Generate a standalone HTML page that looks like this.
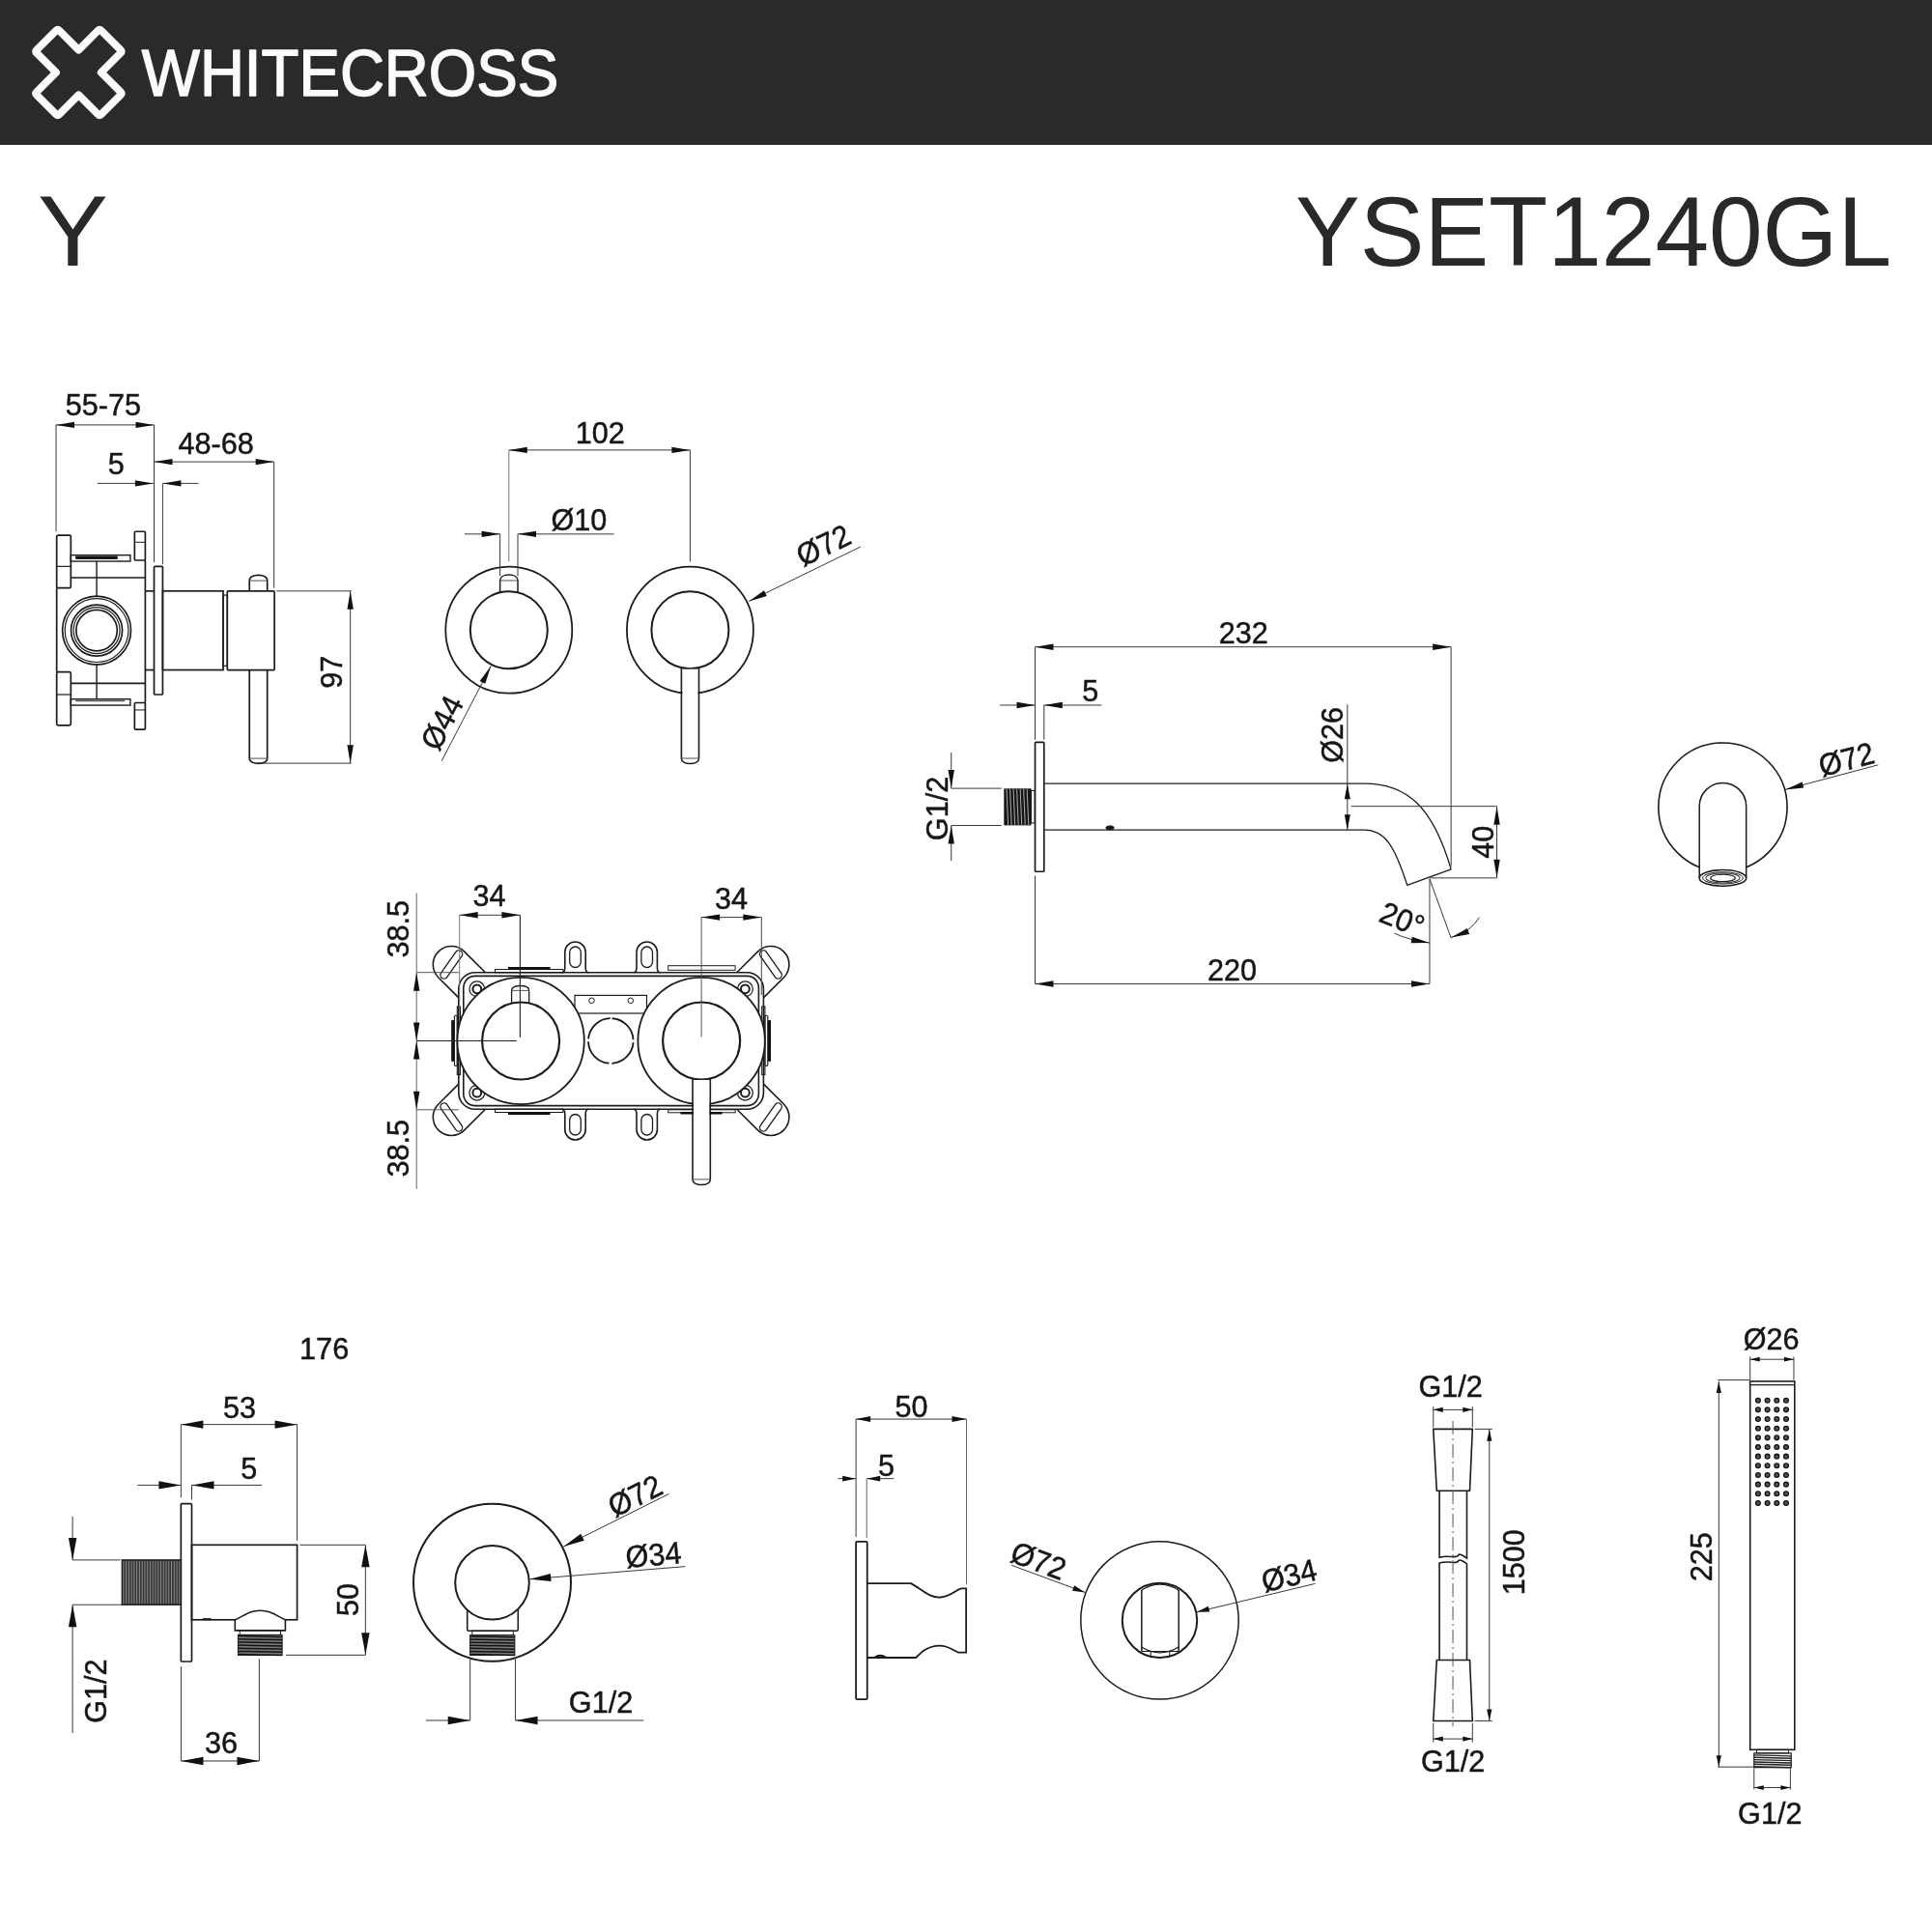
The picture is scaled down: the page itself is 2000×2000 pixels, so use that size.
<!DOCTYPE html>
<html><head><meta charset="utf-8"><title>YSET1240GL</title>
<style>
html,body{margin:0;padding:0;background:#fff;width:2000px;height:2000px;overflow:hidden}
svg{display:block;font-family:"Liberation Sans",sans-serif;will-change:transform}
</style></head><body>
<svg width="2000" height="2000" viewBox="0 0 2000 2000">
<rect width="2000" height="2000" fill="#fff"/>
<rect x="0" y="0" width="2000" height="150" fill="#2b2a29"/>
<g transform="translate(81.4 75) rotate(45)"><path d="M-14 -47.2 L14 -47.2 Q16.5 -47.2 16.5 -44.7 L16.5 -16.5 L44.7 -16.5 Q47.2 -16.5 47.2 -14 L47.2 14 Q47.2 16.5 44.7 16.5 L16.5 16.5 L16.5 44.7 Q16.5 47.2 14 47.2 L-14 47.2 Q-16.5 47.2 -16.5 44.7 L-16.5 16.5 L-44.7 16.5 Q-47.2 16.5 -47.2 14 L-47.2 -14 Q-47.2 -16.5 -44.7 -16.5 L-16.5 -16.5 L-16.5 -44.7 Q-16.5 -47.2 -14 -47.2 Z" fill="none" stroke="#fbfbfb" stroke-width="7.8" stroke-linejoin="round"/></g>
<text x="146.8" y="98.8" font-size="68" fill="#fbfbfb" stroke="#fbfbfb" stroke-width="1.5" stroke-linejoin="round" textLength="431.5" lengthAdjust="spacingAndGlyphs">WHITECROSS</text>
<g transform="translate(41.7 274.5) scale(1.05 1)"><text x="-2.5" y="0" font-size="104" fill="#2b2927">Y</text></g>
<text x="1341" y="274.5" font-size="102" fill="#2b2927" textLength="617" lengthAdjust="spacingAndGlyphs">YSET1240GL</text>
<g font-family="Liberation Sans, sans-serif">
<line x1="58.04" y1="439.88" x2="159.51" y2="439.88" stroke="#3a3938" stroke-width="1"/>
<path d="M58.04 439.88 L77.04 443.08 L77.04 436.68 Z" fill="#111"/>
<path d="M159.51 439.88 L140.51 436.68 L140.51 443.08 Z" fill="#111"/>
<g transform="translate(106.86 430.27) scale(1.02 1.07)"><text x="0" y="0" font-size="30" text-anchor="middle" fill="#161616" stroke="#161616" stroke-width="0.45" >55-75</text></g>
<line x1="58.04" y1="439.88" x2="58.04" y2="550.26" stroke="#3a3938" stroke-width="1"/>
<line x1="159.51" y1="439.88" x2="159.51" y2="582.1" stroke="#3a3938" stroke-width="1"/>
<line x1="159.51" y1="478.09" x2="283.68" y2="478.09" stroke="#3a3938" stroke-width="1"/>
<path d="M159.51 478.09 L178.51 481.29 L178.51 474.89 Z" fill="#111"/>
<path d="M283.68 478.09 L264.68 474.89 L264.68 481.29 Z" fill="#111"/>
<g transform="translate(223.61 469.96) scale(1.02 1.07)"><text x="0" y="0" font-size="30" text-anchor="middle" fill="#161616" stroke="#161616" stroke-width="0.45" >48-68</text></g>
<line x1="283.68" y1="478.09" x2="283.68" y2="608.64" stroke="#3a3938" stroke-width="1"/>
<line x1="100.92" y1="500.38" x2="158.87" y2="500.38" stroke="#3a3938" stroke-width="1"/>
<path d="M158.87 500.38 L139.87 497.18 L139.87 503.58 Z" fill="#111"/>
<line x1="168.42" y1="500.38" x2="205.57" y2="500.38" stroke="#3a3938" stroke-width="1"/>
<path d="M168.42 500.38 L187.42 503.58 L187.42 497.18 Z" fill="#111"/>
<g transform="translate(120.24 491.19) scale(1.02 1.07)"><text x="0" y="0" font-size="30" text-anchor="middle" fill="#161616" stroke="#161616" stroke-width="0.45" >5</text></g>
<line x1="168.42" y1="500.38" x2="168.42" y2="584.23" stroke="#3a3938" stroke-width="1"/>
<line x1="362.65" y1="611.82" x2="362.65" y2="790.13" stroke="#3a3938" stroke-width="1"/>
<path d="M362.65 611.82 L359.45 630.82 L365.85 630.82 Z" fill="#111"/>
<path d="M362.65 790.13 L365.85 771.13 L359.45 771.13 Z" fill="#111"/>
<line x1="286.23" y1="611.82" x2="363.71" y2="611.82" stroke="#3a3938" stroke-width="1"/>
<line x1="267.13" y1="790.13" x2="363.71" y2="790.13" stroke="#3a3938" stroke-width="1"/>
<g transform="translate(342.48 695.67) rotate(-90) scale(1.02 1.07)"><text x="0" y="10.74" font-size="30" text-anchor="middle" fill="#161616" stroke="#161616" stroke-width="0.45">97</text></g>
<rect x="58.68" y="554.08" width="14.65" height="54.55" rx="1.5" stroke="#1d1c1b" stroke-width="1.7" fill="none"/>
<line x1="58.68" y1="586.35" x2="73.33" y2="586.35" stroke="#1d1c1b" stroke-width="1.2"/>
<rect x="58.68" y="695.67" width="14.65" height="55.19" rx="1.5" stroke="#1d1c1b" stroke-width="1.7" fill="none"/>
<line x1="58.68" y1="719.02" x2="73.33" y2="719.02" stroke="#1d1c1b" stroke-width="1.2"/>
<line x1="58.68" y1="608.64" x2="58.68" y2="695.67" stroke="#1d1c1b" stroke-width="1.7"/>
<line x1="73.33" y1="598.02" x2="150.38" y2="598.02" stroke="#1d1c1b" stroke-width="1.7"/>
<line x1="73.33" y1="707.34" x2="150.38" y2="707.34" stroke="#1d1c1b" stroke-width="1.7"/>
<line x1="150.38" y1="579.98" x2="150.38" y2="727.51" stroke="#1d1c1b" stroke-width="1.7"/>
<rect x="139.34" y="550.26" width="11.04" height="29.72" rx="1" stroke="#1d1c1b" stroke-width="1.7" fill="none"/>
<line x1="139.34" y1="561.3" x2="150.38" y2="561.3" stroke="#1d1c1b" stroke-width="1"/>
<rect x="139.34" y="727.51" width="11.04" height="27.59" rx="1" stroke="#1d1c1b" stroke-width="1.7" fill="none"/>
<line x1="139.34" y1="734.94" x2="150.38" y2="734.94" stroke="#1d1c1b" stroke-width="1"/>
<rect x="73.33" y="574.67" width="61.56" height="6.37" rx="0" stroke="#1d1c1b" stroke-width="1.4" fill="none"/>
<rect x="78.21" y="575.52" width="43.52" height="3.4" rx="0" stroke="#1d1c1b" stroke-width="0" fill="#111"/>
<rect x="73.33" y="723.69" width="61.56" height="6.37" rx="0" stroke="#1d1c1b" stroke-width="1.4" fill="none"/>
<rect x="78.21" y="724.54" width="50.94" height="1.7" rx="0" stroke="#1d1c1b" stroke-width="0" fill="#555"/>
<line x1="100.07" y1="581.04" x2="100.07" y2="618.19" stroke="#1d1c1b" stroke-width="1.4"/>
<line x1="100.07" y1="687.18" x2="100.07" y2="723.69" stroke="#1d1c1b" stroke-width="1.4"/>
<circle cx="100.07" cy="652.58" r="35.45" stroke="#1d1c1b" stroke-width="1.7" fill="none" />
<circle cx="100.07" cy="652.58" r="32.9" stroke="#1d1c1b" stroke-width="1.2" fill="none" />
<circle cx="100.07" cy="652.58" r="26.53" stroke="#1d1c1b" stroke-width="1.7" fill="none" />
<circle cx="100.07" cy="652.58" r="23.99" stroke="#1d1c1b" stroke-width="1.2" fill="none" />
<circle cx="100.07" cy="652.58" r="21.23" stroke="#1d1c1b" stroke-width="1.7" fill="none" />
<rect x="159.51" y="586.35" width="8.92" height="132.67" rx="1" stroke="#1d1c1b" stroke-width="1.7" fill="none"/>
<line x1="150.38" y1="611.82" x2="159.51" y2="611.82" stroke="#1d1c1b" stroke-width="1.7"/>
<line x1="150.38" y1="693.54" x2="159.51" y2="693.54" stroke="#1d1c1b" stroke-width="1.7"/>
<rect x="168.42" y="611.82" width="62.62" height="81.72" rx="0" stroke="#1d1c1b" stroke-width="1.7" fill="none"/>
<rect x="231.04" y="616.07" width="4.25" height="73.23" rx="0" stroke="#1d1c1b" stroke-width="1.2" fill="none"/>
<rect x="235.29" y="611.82" width="48.82" height="81.72" rx="1" stroke="#1d1c1b" stroke-width="1.7" fill="none"/>
<path d="M258.21 611.82 L258.21 601.1 C258.21 597.39 262.28 595.4 267.45 595.4 C272.62 595.4 276.68 597.39 276.68 601.1 L276.68 611.82" stroke="#1d1c1b" stroke-width="1.7" fill="none" />
<line x1="258.21" y1="601.1" x2="276.68" y2="601.1" stroke="#555" stroke-width="1"/>
<path d="M258.21 693.54 L258.21 785.1 C258.21 788.54 262.28 790.4 267.45 790.4 C272.62 790.4 276.68 788.54 276.68 785.1 L276.68 693.54" stroke="#1d1c1b" stroke-width="1.7" fill="none" />
<line x1="258.21" y1="785.1" x2="276.68" y2="785.1" stroke="#555" stroke-width="1"/>
<circle cx="526.8" cy="652.2" r="65.5" stroke="#1d1c1b" stroke-width="1.8" fill="none" />
<circle cx="526.8" cy="652.2" r="40" stroke="#1d1c1b" stroke-width="2" fill="none" />
<circle cx="714.4" cy="652.2" r="65.5" stroke="#1d1c1b" stroke-width="1.8" fill="none" />
<circle cx="714.4" cy="652.2" r="40" stroke="#1d1c1b" stroke-width="2" fill="none" />
<path d="M517.64 613.27 L517.64 601 C517.64 597.16 521.68 595.1 526.83 595.1 C531.98 595.1 536.02 597.16 536.02 601 L536.02 613.27" stroke="#1d1c1b" stroke-width="1.5" fill="none" />
<line x1="517.64" y1="601" x2="536.02" y2="601" stroke="#555" stroke-width="1"/>
<rect x="706.4" y="692.66" width="16.1" height="88.84" fill="#fff"/>
<path d="M705.4 691.16 L705.4 785 C705.4 788.58 709.38 790.5 714.45 790.5 C719.52 790.5 723.5 788.58 723.5 785 L723.5 691.16" stroke="#1d1c1b" stroke-width="1.6" fill="none" />
<line x1="705.4" y1="785" x2="723.5" y2="785" stroke="#555" stroke-width="1"/>
<line x1="526.8" y1="465.9" x2="714.4" y2="465.9" stroke="#3a3938" stroke-width="1"/>
<path d="M526.8 465.9 L545.8 469.1 L545.8 462.7 Z" fill="#111"/>
<path d="M714.4 465.9 L695.4 462.7 L695.4 469.1 Z" fill="#111"/>
<g transform="translate(621.24 459.45) scale(1.02 1.07)"><text x="0" y="0" font-size="30" text-anchor="middle" fill="#161616" stroke="#161616" stroke-width="0.45" >102</text></g>
<line x1="526.8" y1="465.9" x2="526.8" y2="581.43" stroke="#777" stroke-width="1"/>
<line x1="714.4" y1="465.9" x2="714.4" y2="581.43" stroke="#3a3938" stroke-width="1"/>
<line x1="480.87" y1="552.86" x2="517.64" y2="552.86" stroke="#3a3938" stroke-width="1"/>
<path d="M517.64 552.86 L498.64 549.66 L498.64 556.06 Z" fill="#111"/>
<line x1="536.02" y1="552.86" x2="635.65" y2="552.86" stroke="#3a3938" stroke-width="1"/>
<path d="M536.02 552.86 L555.02 556.06 L555.02 549.66 Z" fill="#111"/>
<line x1="517.64" y1="552.86" x2="517.64" y2="596.34" stroke="#3a3938" stroke-width="1"/>
<line x1="536.02" y1="552.86" x2="536.02" y2="596.34" stroke="#3a3938" stroke-width="1"/>
<g transform="translate(599.38 548.89) scale(1.02 1.07)"><text x="0" y="0" font-size="30" text-anchor="middle" fill="#161616" stroke="#161616" stroke-width="0.45" >&#216;10</text></g>
<line x1="775.28" y1="622.42" x2="890.81" y2="566.02" stroke="#3a3938" stroke-width="1"/>
<path d="M775.28 622.42 L793.76 616.96 L790.95 611.21 Z" fill="#111"/>
<g transform="translate(852.3 564.04) rotate(-26) scale(1.02 1.07)"><text x="0" y="10.74" font-size="30" text-anchor="middle" fill="#161616" stroke="#161616" stroke-width="0.45">&#216;72</text></g>
<line x1="508.2" y1="689.5" x2="457.27" y2="787.64" stroke="#3a3938" stroke-width="1"/>
<path d="M508.2 689.5 L496.61 704.89 L502.29 707.84 Z" fill="#111"/>
<g transform="translate(457.27 747.89) rotate(-62.5) scale(1.02 1.07)"><text x="0" y="10.74" font-size="30" text-anchor="middle" fill="#161616" stroke="#161616" stroke-width="0.45">&#216;44</text></g>
<g><path d="M502.5 1006.8 L480.74 985.06 A19 19 0 0 0 453.86 1011.94 L474.8 1032.9" fill="none" stroke="#1d1c1b" stroke-width="1.6"/><g transform="translate(467.3 998.5) rotate(-55)"><rect x="-17" y="-3.8" width="34" height="7.6" rx="3.8" fill="none" stroke="#1d1c1b" stroke-width="1.3"/></g><path d="M581.5 1006.8 Q584.8 1006.8 584.8 1002 L584.8 985.7 A10.7 10.7 0 0 1 606.2 985.7 L606.2 1002 Q606.2 1006.8 609.5 1006.8" fill="none" stroke="#1d1c1b" stroke-width="1.6"/><rect x="589.7" y="980" width="11.6" height="21.5" rx="5.8" fill="none" stroke="#1d1c1b" stroke-width="1.3"/><circle cx="493.8" cy="1023.8" r="7.9" fill="none" stroke="#1d1c1b" stroke-width="1.2"/><circle cx="493.8" cy="1023.8" r="4.4" fill="none" stroke="#1d1c1b" stroke-width="2"/></g>
<g transform="translate(1265.2 0) scale(-1 1)"><path d="M502.5 1006.8 L480.74 985.06 A19 19 0 0 0 453.86 1011.94 L474.8 1032.9" fill="none" stroke="#1d1c1b" stroke-width="1.6"/><g transform="translate(467.3 998.5) rotate(-55)"><rect x="-17" y="-3.8" width="34" height="7.6" rx="3.8" fill="none" stroke="#1d1c1b" stroke-width="1.3"/></g><path d="M581.5 1006.8 Q584.8 1006.8 584.8 1002 L584.8 985.7 A10.7 10.7 0 0 1 606.2 985.7 L606.2 1002 Q606.2 1006.8 609.5 1006.8" fill="none" stroke="#1d1c1b" stroke-width="1.6"/><rect x="589.7" y="980" width="11.6" height="21.5" rx="5.8" fill="none" stroke="#1d1c1b" stroke-width="1.3"/><circle cx="493.8" cy="1023.8" r="7.9" fill="none" stroke="#1d1c1b" stroke-width="1.2"/><circle cx="493.8" cy="1023.8" r="4.4" fill="none" stroke="#1d1c1b" stroke-width="2"/></g>
<g transform="translate(0 2155) scale(1 -1)"><path d="M502.5 1006.8 L480.74 985.06 A19 19 0 0 0 453.86 1011.94 L474.8 1032.9" fill="none" stroke="#1d1c1b" stroke-width="1.6"/><g transform="translate(467.3 998.5) rotate(-55)"><rect x="-17" y="-3.8" width="34" height="7.6" rx="3.8" fill="none" stroke="#1d1c1b" stroke-width="1.3"/></g><path d="M581.5 1006.8 Q584.8 1006.8 584.8 1002 L584.8 985.7 A10.7 10.7 0 0 1 606.2 985.7 L606.2 1002 Q606.2 1006.8 609.5 1006.8" fill="none" stroke="#1d1c1b" stroke-width="1.6"/><rect x="589.7" y="980" width="11.6" height="21.5" rx="5.8" fill="none" stroke="#1d1c1b" stroke-width="1.3"/><circle cx="493.8" cy="1023.8" r="7.9" fill="none" stroke="#1d1c1b" stroke-width="1.2"/><circle cx="493.8" cy="1023.8" r="4.4" fill="none" stroke="#1d1c1b" stroke-width="2"/></g>
<g transform="translate(1265.2 2155) scale(-1 -1)"><path d="M502.5 1006.8 L480.74 985.06 A19 19 0 0 0 453.86 1011.94 L474.8 1032.9" fill="none" stroke="#1d1c1b" stroke-width="1.6"/><g transform="translate(467.3 998.5) rotate(-55)"><rect x="-17" y="-3.8" width="34" height="7.6" rx="3.8" fill="none" stroke="#1d1c1b" stroke-width="1.3"/></g><path d="M581.5 1006.8 Q584.8 1006.8 584.8 1002 L584.8 985.7 A10.7 10.7 0 0 1 606.2 985.7 L606.2 1002 Q606.2 1006.8 609.5 1006.8" fill="none" stroke="#1d1c1b" stroke-width="1.6"/><rect x="589.7" y="980" width="11.6" height="21.5" rx="5.8" fill="none" stroke="#1d1c1b" stroke-width="1.3"/><circle cx="493.8" cy="1023.8" r="7.9" fill="none" stroke="#1d1c1b" stroke-width="1.2"/><circle cx="493.8" cy="1023.8" r="4.4" fill="none" stroke="#1d1c1b" stroke-width="2"/></g>
<g><rect x="512.5" y="1003.5" width="70.4" height="3.3" fill="none" stroke="#1d1c1b" stroke-width="1"/><rect x="526" y="1001" width="43.6" height="3" fill="#111"/></g>
<g transform="translate(0 2155) scale(1 -1)"><rect x="512.5" y="1003.5" width="70.4" height="3.3" fill="none" stroke="#1d1c1b" stroke-width="1"/><rect x="526" y="1001" width="43.6" height="3" fill="#111"/></g>
<rect x="691.7" y="999.7" width="69.4" height="4.6" fill="none" stroke="#1d1c1b" stroke-width="1"/>
<rect x="691.7" y="1148.8" width="69.4" height="3" fill="none" stroke="#1d1c1b" stroke-width="1"/>
<rect x="704.5" y="1151" width="43" height="2.5" fill="#111"/>
<rect x="474.8" y="1006.8" width="315.6" height="141.4" rx="17" stroke="#1d1c1b" stroke-width="1.6" fill="none"/>
<rect x="479.8" y="1010.4" width="305.6" height="134.2" rx="12" stroke="#1d1c1b" stroke-width="1.6" fill="none"/>
<rect x="467.2" y="1056.1" width="3.3" height="42.7" fill="#111"/><rect x="470.4" y="1051.2" width="2.9" height="52.2" rx="1.2" fill="none" stroke="#1d1c1b" stroke-width="1.1"/><rect x="473.3" y="1042" width="3.2" height="70.5" fill="none" stroke="#1d1c1b" stroke-width="1.1"/>
<g transform="translate(1265.2 0) scale(-1 1)"><rect x="467.2" y="1056.1" width="3.3" height="42.7" fill="#111"/><rect x="470.4" y="1051.2" width="2.9" height="52.2" rx="1.2" fill="none" stroke="#1d1c1b" stroke-width="1.1"/><rect x="473.3" y="1042" width="3.2" height="70.5" fill="none" stroke="#1d1c1b" stroke-width="1.1"/></g>
<rect x="595" y="1030.4" width="74.5" height="18.6" rx="0" stroke="#1d1c1b" stroke-width="1.2" fill="none"/>
<circle cx="612.5" cy="1035.8" r="2.8" stroke="#1d1c1b" stroke-width="1" fill="none" />
<circle cx="652.8" cy="1035.8" r="2.8" stroke="#1d1c1b" stroke-width="1" fill="none" />
<circle cx="632.3" cy="1077.5" r="23.3" fill="none" stroke="#1d1c1b" stroke-width="1.8" stroke-dasharray="33.6 3" stroke-dashoffset="-1.5" transform="rotate(-90 632.3 1077.5)"/>
<circle cx="539.1" cy="1077.5" r="65.7" stroke="#1d1c1b" stroke-width="1.8" fill="#fff" />
<circle cx="726.1" cy="1077.5" r="65.7" stroke="#1d1c1b" stroke-width="1.8" fill="#fff" />
<circle cx="539.1" cy="1077.5" r="40" stroke="#1d1c1b" stroke-width="2.2" fill="none" />
<circle cx="726.1" cy="1077.5" r="40" stroke="#1d1c1b" stroke-width="2.2" fill="none" />
<path d="M529.6 1038.53 L529.6 1025.4 C529.6 1022.22 533.58 1020.5 538.65 1020.5 C543.72 1020.5 547.7 1022.22 547.7 1025.4 L547.7 1038.53" stroke="#1d1c1b" stroke-width="1.3" fill="none" />
<line x1="529.6" y1="1025.4" x2="547.7" y2="1025.4" stroke="#555" stroke-width="1"/>
<rect x="718" y="1117.97" width="16.3" height="98.53" fill="#fff"/>
<path d="M717 1116.47 L717 1220.9 C717 1224.54 721.03 1226.5 726.15 1226.5 C731.27 1226.5 735.3 1224.54 735.3 1220.9 L735.3 1116.47" stroke="#1d1c1b" stroke-width="1.6" fill="none" />
<line x1="717" y1="1220.9" x2="735.3" y2="1220.9" stroke="#555" stroke-width="1"/>
<line x1="431.2" y1="924.5" x2="431.2" y2="1230.8" stroke="#666" stroke-width="1"/>
<line x1="431.2" y1="1006.7" x2="474.8" y2="1006.7" stroke="#555" stroke-width="1"/>
<line x1="431.2" y1="1077.5" x2="534.9" y2="1077.5" stroke="#222" stroke-width="1.2"/>
<line x1="431.2" y1="1148.8" x2="474.8" y2="1148.8" stroke="#555" stroke-width="1"/>
<path d="M431.2 1006.7 L428 1025.7 L434.4 1025.7 Z" fill="#111"/>
<path d="M431.2 1077.5 L434.4 1058.5 L428 1058.5 Z" fill="#111"/>
<path d="M431.2 1077.5 L428 1096.5 L434.4 1096.5 Z" fill="#111"/>
<path d="M431.2 1148.8 L434.4 1129.8 L428 1129.8 Z" fill="#111"/>
<g transform="translate(411.4 961.7) rotate(-90) scale(1.02 1.07)"><text x="0" y="10.74" font-size="30" text-anchor="middle" fill="#161616" stroke="#161616" stroke-width="0.45">38.5</text></g>
<g transform="translate(411.4 1188.8) rotate(-90) scale(1.02 1.07)"><text x="0" y="10.74" font-size="30" text-anchor="middle" fill="#161616" stroke="#161616" stroke-width="0.45">38.5</text></g>
<line x1="475.7" y1="947.3" x2="538.4" y2="947.3" stroke="#3a3938" stroke-width="1"/>
<path d="M475.7 947.3 L494.7 950.5 L494.7 944.1 Z" fill="#111"/>
<path d="M538.4 947.3 L519.4 944.1 L519.4 950.5 Z" fill="#111"/>
<line x1="475.7" y1="947.3" x2="475.7" y2="1042.8" stroke="#777" stroke-width="1"/>
<line x1="538.4" y1="947.3" x2="538.4" y2="1073.9" stroke="#222" stroke-width="1.1"/>
<g transform="translate(506.5 938.3) scale(1.02 1.07)"><text x="0" y="0" font-size="30" text-anchor="middle" fill="#161616" stroke="#161616" stroke-width="0.45" >34</text></g>
<line x1="726.1" y1="949.6" x2="788.3" y2="949.6" stroke="#3a3938" stroke-width="1"/>
<path d="M726.1 949.6 L745.1 952.8 L745.1 946.4 Z" fill="#111"/>
<path d="M788.3 949.6 L769.3 946.4 L769.3 952.8 Z" fill="#111"/>
<line x1="726.1" y1="949.6" x2="726.1" y2="1073.5" stroke="#555" stroke-width="1"/>
<line x1="788.3" y1="949.6" x2="788.3" y2="1030" stroke="#444" stroke-width="1"/>
<g transform="translate(756.9 940.6) scale(1.02 1.07)"><text x="0" y="0" font-size="30" text-anchor="middle" fill="#161616" stroke="#161616" stroke-width="0.45" >34</text></g>
<line x1="1071.51" y1="669.69" x2="1502.15" y2="669.69" stroke="#3a3938" stroke-width="1"/>
<path d="M1071.51 669.69 L1090.51 672.89 L1090.51 666.49 Z" fill="#111"/>
<path d="M1502.15 669.69 L1483.15 666.49 L1483.15 672.89 Z" fill="#111"/>
<g transform="translate(1287.16 665.72) scale(1.02 1.07)"><text x="0" y="0" font-size="30" text-anchor="middle" fill="#161616" stroke="#161616" stroke-width="0.45" >232</text></g>
<line x1="1071.51" y1="669.69" x2="1071.51" y2="765.76" stroke="#3a3938" stroke-width="1"/>
<line x1="1502.15" y1="669.69" x2="1502.15" y2="896.6" stroke="#3a3938" stroke-width="1"/>
<line x1="1071.51" y1="1018.51" x2="1479.96" y2="1018.51" stroke="#3a3938" stroke-width="1"/>
<path d="M1071.51 1018.51 L1090.51 1021.71 L1090.51 1015.31 Z" fill="#111"/>
<path d="M1479.96 1018.51 L1460.96 1015.31 L1460.96 1021.71 Z" fill="#111"/>
<g transform="translate(1275.57 1015.2) scale(1.02 1.07)"><text x="0" y="0" font-size="30" text-anchor="middle" fill="#161616" stroke="#161616" stroke-width="0.45" >220</text></g>
<line x1="1071.51" y1="906.54" x2="1071.51" y2="1018.51" stroke="#3a3938" stroke-width="1"/>
<line x1="1479.96" y1="909.86" x2="1479.96" y2="1018.51" stroke="#3a3938" stroke-width="1"/>
<line x1="1035.07" y1="729.98" x2="1071.51" y2="729.98" stroke="#3a3938" stroke-width="1"/>
<path d="M1071.51 729.98 L1052.51 726.78 L1052.51 733.18 Z" fill="#111"/>
<line x1="1080.79" y1="729.98" x2="1140.41" y2="729.98" stroke="#3a3938" stroke-width="1"/>
<path d="M1080.79 729.98 L1099.79 733.18 L1099.79 726.78 Z" fill="#111"/>
<line x1="1080.79" y1="729.98" x2="1080.79" y2="765.76" stroke="#3a3938" stroke-width="1"/>
<g transform="translate(1128.82 726.34) scale(1.02 1.07)"><text x="0" y="0" font-size="30" text-anchor="middle" fill="#161616" stroke="#161616" stroke-width="0.45" >5</text></g>
<rect x="1071.51" y="768.41" width="9.28" height="133.83" rx="1" stroke="#1d1c1b" stroke-width="1.7" fill="none"/>
<rect x="1039.3" y="816.3" width="28.2" height="38.1" fill="#161616"/>
<line x1="1042.03" y1="816.8" x2="1043.62" y2="853.9" stroke="#bbb" stroke-width="0.9"/>
<line x1="1045.55" y1="816.8" x2="1047.15" y2="853.9" stroke="#bbb" stroke-width="0.9"/>
<line x1="1049.08" y1="816.8" x2="1050.67" y2="853.9" stroke="#bbb" stroke-width="0.9"/>
<line x1="1052.6" y1="816.8" x2="1054.2" y2="853.9" stroke="#bbb" stroke-width="0.9"/>
<line x1="1056.12" y1="816.8" x2="1057.72" y2="853.9" stroke="#bbb" stroke-width="0.9"/>
<line x1="1059.65" y1="816.8" x2="1061.25" y2="853.9" stroke="#bbb" stroke-width="0.9"/>
<line x1="1063.17" y1="816.8" x2="1064.77" y2="853.9" stroke="#bbb" stroke-width="0.9"/>
<rect x="1067.5" y="818.4" width="3.7" height="33.5" rx="0" stroke="#1d1c1b" stroke-width="1" fill="none"/>
<line x1="1080.79" y1="811.14" x2="1412.05" y2="811.14" stroke="#1d1c1b" stroke-width="1.4"/>
<line x1="1080.79" y1="859.17" x2="1412.05" y2="859.17" stroke="#1d1c1b" stroke-width="1.4"/>
<path d="M1412.05 811.14 C1456.77 811.14 1483.27 835.32 1502.15 899.92" stroke="#1d1c1b" stroke-width="1.3" fill="none" />
<path d="M1412.05 859.17 C1433.58 859.17 1443.52 875.07 1456.77 916.48" stroke="#1d1c1b" stroke-width="1.3" fill="none" />
<line x1="1456.77" y1="916.48" x2="1502.15" y2="899.92" stroke="#1d1c1b" stroke-width="1.3"/>
<ellipse cx="1149" cy="856.9" rx="4.2" ry="2" stroke="#1d1c1b" stroke-width="1" fill="#111"/>
<line x1="984.72" y1="779.01" x2="984.72" y2="816.11" stroke="#3a3938" stroke-width="1"/>
<path d="M984.72 816.11 L987.92 797.11 L981.52 797.11 Z" fill="#111"/>
<line x1="984.72" y1="854.53" x2="984.72" y2="890.97" stroke="#3a3938" stroke-width="1"/>
<path d="M984.72 854.53 L981.52 873.53 L987.92 873.53 Z" fill="#111"/>
<line x1="984.72" y1="816.11" x2="1036.73" y2="816.11" stroke="#3a3938" stroke-width="1"/>
<line x1="984.72" y1="854.53" x2="1036.73" y2="854.53" stroke="#3a3938" stroke-width="1"/>
<g transform="translate(969.81 836.98) rotate(-90) scale(1.02 1.07)"><text x="0" y="10.74" font-size="30" text-anchor="middle" fill="#161616" stroke="#161616" stroke-width="0.45">G1/2</text></g>
<line x1="1394.82" y1="729.32" x2="1394.82" y2="859.17" stroke="#3a3938" stroke-width="1"/>
<path d="M1394.82 811.14 L1391.82 827.14 L1397.82 827.14 Z" fill="#111"/>
<path d="M1394.82 859.17 L1397.82 843.17 L1391.82 843.17 Z" fill="#111"/>
<g transform="translate(1378.92 760.79) rotate(-90) scale(1.02 1.07)"><text x="0" y="10.74" font-size="30" text-anchor="middle" fill="#161616" stroke="#161616" stroke-width="0.45">&#216;26</text></g>
<line x1="1549.52" y1="834.66" x2="1549.52" y2="908.86" stroke="#3a3938" stroke-width="1"/>
<path d="M1549.52 834.66 L1546.32 853.66 L1552.72 853.66 Z" fill="#111"/>
<path d="M1549.52 908.86 L1552.72 889.86 L1546.32 889.86 Z" fill="#111"/>
<line x1="1398.8" y1="834.66" x2="1549.52" y2="834.66" stroke="#3a3938" stroke-width="1"/>
<line x1="1479.96" y1="908.86" x2="1549.52" y2="908.86" stroke="#3a3938" stroke-width="1"/>
<g transform="translate(1534.62 871.76) rotate(-90) scale(1.02 1.07)"><text x="0" y="10.74" font-size="30" text-anchor="middle" fill="#161616" stroke="#161616" stroke-width="0.45">40</text></g>
<line x1="1479.96" y1="909.86" x2="1502.15" y2="971.14" stroke="#3a3938" stroke-width="1"/>
<path d="M1443.52 966.17 Q1460.08 973.79 1479.96 976.11" stroke="#3a3938" stroke-width="1" fill="none" />
<path d="M1479.96 976.11 L1461.74 969.83 L1460.69 976.14 Z" fill="#111"/>
<path d="M1531.3 949.61 Q1523.02 964.51 1502.15 970.48" stroke="#3a3938" stroke-width="1" fill="none" />
<path d="M1502.15 970.48 L1521.1 966.97 L1518.9 960.95 Z" fill="#111"/>
<g transform="translate(1451.8 951.26) rotate(22) scale(1.02 1.07)"><text x="0" y="10.74" font-size="30" text-anchor="middle" fill="#161616" stroke="#161616" stroke-width="0.45">20&#176;</text></g>
<circle cx="1783.45" cy="835.56" r="66.62" stroke="#1d1c1b" stroke-width="1.6" fill="none" />
<rect x="1759.22" y="834.21" width="48.45" height="74.7" fill="#fff"/>
<path d="M1759.22 908.91 L1759.22 834.21 A24.23 24.23 0 0 1 1807.67 834.21 L1807.67 908.91" stroke="#1d1c1b" stroke-width="1.5" fill="none" />
<ellipse cx="1783.45" cy="908.91" rx="24.23" ry="8.34" stroke="#1d1c1b" stroke-width="1.6" fill="#fff"/>
<ellipse cx="1783.45" cy="908.91" rx="20.86" ry="6.19" stroke="#1d1c1b" stroke-width="1" fill="none"/>
<ellipse cx="1783.45" cy="908.91" rx="17.5" ry="5.11" stroke="#444" stroke-width="1.2" fill="none"/>
<ellipse cx="1783.45" cy="908.91" rx="12.79" ry="3.77" stroke="#1d1c1b" stroke-width="1.2" fill="none"/>
<line x1="1848.05" y1="817.39" x2="1944.28" y2="791.82" stroke="#3a3938" stroke-width="1"/>
<path d="M1848.05 817.39 L1867.23 815.6 L1865.59 809.42 Z" fill="#111"/>
<g transform="translate(1911.31 785.76) rotate(-15) scale(1.02 1.07)"><text x="0" y="10.74" font-size="30" text-anchor="middle" fill="#161616" stroke="#161616" stroke-width="0.45">&#216;72</text></g>
<g transform="translate(335.62 1407.07) scale(1.02 1.07)"><text x="0" y="0" font-size="30" text-anchor="middle" fill="#161616" stroke="#161616" stroke-width="0.45" >176</text></g>
<line x1="187.35" y1="1474.64" x2="307.57" y2="1474.64" stroke="#3a3938" stroke-width="1"/>
<path d="M187.35 1474.64 L210.35 1478.84 L210.35 1470.44 Z" fill="#111"/>
<path d="M307.57 1474.64 L284.57 1470.44 L284.57 1478.84 Z" fill="#111"/>
<g transform="translate(248.12 1467.85) scale(1.02 1.07)"><text x="0" y="0" font-size="30" text-anchor="middle" fill="#161616" stroke="#161616" stroke-width="0.45" >53</text></g>
<line x1="187.35" y1="1474.64" x2="187.35" y2="1550.33" stroke="#3a3938" stroke-width="1"/>
<line x1="307.57" y1="1474.64" x2="307.57" y2="1594.86" stroke="#3a3938" stroke-width="1"/>
<line x1="142.37" y1="1537.42" x2="187.35" y2="1537.42" stroke="#3a3938" stroke-width="1"/>
<path d="M187.35 1537.42 L164.35 1533.22 L164.35 1541.62 Z" fill="#111"/>
<line x1="198.48" y1="1537.42" x2="271.06" y2="1537.42" stroke="#3a3938" stroke-width="1"/>
<path d="M198.48 1537.42 L221.48 1541.62 L221.48 1533.22 Z" fill="#111"/>
<line x1="198.48" y1="1537.42" x2="198.48" y2="1552.56" stroke="#3a3938" stroke-width="1"/>
<g transform="translate(257.7 1530.85) scale(1.02 1.07)"><text x="0" y="0" font-size="30" text-anchor="middle" fill="#161616" stroke="#161616" stroke-width="0.45" >5</text></g>
<rect x="187.35" y="1556.57" width="11.13" height="163.41" rx="1" stroke="#1d1c1b" stroke-width="1.7" fill="none"/>
<rect x="126.34" y="1614.9" width="61" height="46.31" fill="#3a3a3a" stroke="#1d1c1b" stroke-width="1.4"/>
<line x1="127.84" y1="1615.9" x2="127.84" y2="1660.2" stroke="#999" stroke-width="0.8"/>
<line x1="130.61" y1="1615.9" x2="130.61" y2="1660.2" stroke="#999" stroke-width="0.8"/>
<line x1="133.37" y1="1615.9" x2="133.37" y2="1660.2" stroke="#999" stroke-width="0.8"/>
<line x1="136.13" y1="1615.9" x2="136.13" y2="1660.2" stroke="#999" stroke-width="0.8"/>
<line x1="138.89" y1="1615.9" x2="138.89" y2="1660.2" stroke="#999" stroke-width="0.8"/>
<line x1="141.65" y1="1615.9" x2="141.65" y2="1660.2" stroke="#999" stroke-width="0.8"/>
<line x1="144.42" y1="1615.9" x2="144.42" y2="1660.2" stroke="#999" stroke-width="0.8"/>
<line x1="147.18" y1="1615.9" x2="147.18" y2="1660.2" stroke="#999" stroke-width="0.8"/>
<line x1="149.94" y1="1615.9" x2="149.94" y2="1660.2" stroke="#999" stroke-width="0.8"/>
<line x1="152.7" y1="1615.9" x2="152.7" y2="1660.2" stroke="#999" stroke-width="0.8"/>
<line x1="155.46" y1="1615.9" x2="155.46" y2="1660.2" stroke="#999" stroke-width="0.8"/>
<line x1="158.23" y1="1615.9" x2="158.23" y2="1660.2" stroke="#999" stroke-width="0.8"/>
<line x1="160.99" y1="1615.9" x2="160.99" y2="1660.2" stroke="#999" stroke-width="0.8"/>
<line x1="163.75" y1="1615.9" x2="163.75" y2="1660.2" stroke="#999" stroke-width="0.8"/>
<line x1="166.51" y1="1615.9" x2="166.51" y2="1660.2" stroke="#999" stroke-width="0.8"/>
<line x1="169.27" y1="1615.9" x2="169.27" y2="1660.2" stroke="#999" stroke-width="0.8"/>
<line x1="172.04" y1="1615.9" x2="172.04" y2="1660.2" stroke="#999" stroke-width="0.8"/>
<line x1="174.8" y1="1615.9" x2="174.8" y2="1660.2" stroke="#999" stroke-width="0.8"/>
<line x1="177.56" y1="1615.9" x2="177.56" y2="1660.2" stroke="#999" stroke-width="0.8"/>
<line x1="180.32" y1="1615.9" x2="180.32" y2="1660.2" stroke="#999" stroke-width="0.8"/>
<line x1="183.08" y1="1615.9" x2="183.08" y2="1660.2" stroke="#999" stroke-width="0.8"/>
<line x1="185.85" y1="1615.9" x2="185.85" y2="1660.2" stroke="#999" stroke-width="0.8"/>
<rect x="198.48" y="1599.31" width="109.09" height="77.48" rx="0" stroke="#1d1c1b" stroke-width="1.7" fill="none"/>
<path d="M243.3 1687.9 L243.3 1676.9 C255.3 1671 259.35 1667.2 269.35 1667.2 C279.35 1667.2 283.4 1671 295.4 1676.9 L295.4 1687.9 Z" stroke="#1d1c1b" stroke-width="1.6" fill="#fff" />
<rect x="248.2" y="1687.9" width="42.3" height="4.5" rx="0" stroke="#1d1c1b" stroke-width="1" fill="none"/>
<rect x="246.4" y="1692.4" width="45.7" height="21" rx="0" stroke="#1d1c1b" stroke-width="1" fill="#777"/>
<line x1="246.4" y1="1693.6" x2="292.1" y2="1694.4" stroke="#111" stroke-width="1.5"/>
<line x1="246.4" y1="1696.77" x2="292.1" y2="1697.57" stroke="#111" stroke-width="1.5"/>
<line x1="246.4" y1="1699.93" x2="292.1" y2="1700.73" stroke="#111" stroke-width="1.5"/>
<line x1="246.4" y1="1703.1" x2="292.1" y2="1703.9" stroke="#111" stroke-width="1.5"/>
<line x1="246.4" y1="1706.27" x2="292.1" y2="1707.07" stroke="#111" stroke-width="1.5"/>
<line x1="246.4" y1="1709.43" x2="292.1" y2="1710.23" stroke="#111" stroke-width="1.5"/>
<line x1="246.4" y1="1712.6" x2="292.1" y2="1713.4" stroke="#111" stroke-width="1.5"/>
<line x1="209.61" y1="1676.12" x2="218.51" y2="1676.12" stroke="#1d1c1b" stroke-width="2"/>
<line x1="378.36" y1="1599.31" x2="378.36" y2="1713.3" stroke="#3a3938" stroke-width="1"/>
<path d="M378.36 1599.31 L374.16 1622.31 L382.56 1622.31 Z" fill="#111"/>
<path d="M378.36 1713.3 L382.56 1690.3 L374.16 1690.3 Z" fill="#111"/>
<line x1="310.46" y1="1599.31" x2="378.36" y2="1599.31" stroke="#3a3938" stroke-width="1"/>
<line x1="295.99" y1="1713.3" x2="378.36" y2="1713.3" stroke="#3a3938" stroke-width="1"/>
<g transform="translate(359.44 1656.08) rotate(-90) scale(1.02 1.07)"><text x="0" y="10.74" font-size="30" text-anchor="middle" fill="#161616" stroke="#161616" stroke-width="0.45">50</text></g>
<line x1="75.14" y1="1569.92" x2="75.14" y2="1614.9" stroke="#3a3938" stroke-width="1"/>
<path d="M75.14 1614.9 L79.34 1591.9 L70.94 1591.9 Z" fill="#111"/>
<line x1="75.14" y1="1661.2" x2="75.14" y2="1794.12" stroke="#3a3938" stroke-width="1"/>
<path d="M75.14 1661.2 L70.94 1684.2 L79.34 1684.2 Z" fill="#111"/>
<line x1="75.14" y1="1614.9" x2="124.56" y2="1614.9" stroke="#3a3938" stroke-width="1"/>
<line x1="75.14" y1="1661.2" x2="126.34" y2="1661.2" stroke="#3a3938" stroke-width="1"/>
<g transform="translate(98.96 1750.7) rotate(-90) scale(1.02 1.07)"><text x="0" y="10.74" font-size="30" text-anchor="middle" fill="#161616" stroke="#161616" stroke-width="0.45">G1/2</text></g>
<line x1="187.43" y1="1822.99" x2="268.4" y2="1822.99" stroke="#3a3938" stroke-width="1"/>
<path d="M187.43 1822.99 L210.43 1827.19 L210.43 1818.79 Z" fill="#111"/>
<path d="M268.4 1822.99 L245.4 1818.79 L245.4 1827.19 Z" fill="#111"/>
<line x1="187.43" y1="1725.1" x2="187.43" y2="1822.99" stroke="#3a3938" stroke-width="1"/>
<line x1="268.4" y1="1717.31" x2="268.4" y2="1822.99" stroke="#3a3938" stroke-width="1"/>
<g transform="translate(229.12 1815.45) scale(1.02 1.07)"><text x="0" y="0" font-size="30" text-anchor="middle" fill="#161616" stroke="#161616" stroke-width="0.45" >36</text></g>
<circle cx="509.5" cy="1638.3" r="81.5" stroke="#1d1c1b" stroke-width="2" fill="none" />
<rect x="483.7" y="1660.5" width="52.6" height="27.7" rx="1.5" stroke="#1d1c1b" stroke-width="1.6" fill="none"/>
<circle cx="509.5" cy="1638.3" r="38.3" stroke="#1d1c1b" stroke-width="2" fill="#fff" />
<rect x="488.8" y="1688.2" width="42.5" height="4.5" rx="0" stroke="#1d1c1b" stroke-width="1" fill="none"/>
<rect x="486.6" y="1692.7" width="46.3" height="20.7" rx="0" stroke="#1d1c1b" stroke-width="1" fill="#777"/>
<line x1="486.6" y1="1693.9" x2="532.9" y2="1694.7" stroke="#111" stroke-width="1.5"/>
<line x1="486.6" y1="1697.02" x2="532.9" y2="1697.82" stroke="#111" stroke-width="1.5"/>
<line x1="486.6" y1="1700.13" x2="532.9" y2="1700.93" stroke="#111" stroke-width="1.5"/>
<line x1="486.6" y1="1703.25" x2="532.9" y2="1704.05" stroke="#111" stroke-width="1.5"/>
<line x1="486.6" y1="1706.37" x2="532.9" y2="1707.17" stroke="#111" stroke-width="1.5"/>
<line x1="486.6" y1="1709.48" x2="532.9" y2="1710.28" stroke="#111" stroke-width="1.5"/>
<line x1="486.6" y1="1712.6" x2="532.9" y2="1713.4" stroke="#111" stroke-width="1.5"/>
<line x1="486.7" y1="1715.82" x2="486.7" y2="1781" stroke="#3a3938" stroke-width="1"/>
<line x1="533.56" y1="1715.82" x2="533.56" y2="1781" stroke="#3a3938" stroke-width="1"/>
<line x1="583.3" y1="1601.09" x2="692.41" y2="1546.53" stroke="#3a3938" stroke-width="1"/>
<path d="M583.3 1601.09 L604.77 1594.83 L601.19 1587.67 Z" fill="#111"/>
<g transform="translate(657.11 1548.14) rotate(-26.6) scale(1.02 1.07)"><text x="0" y="10.74" font-size="30" text-anchor="middle" fill="#161616" stroke="#161616" stroke-width="0.45">&#216;72</text></g>
<line x1="548.32" y1="1634.79" x2="709.26" y2="1621.63" stroke="#3a3938" stroke-width="1"/>
<path d="M548.32 1634.79 L570.57 1636.98 L569.92 1629.01 Z" fill="#111"/>
<g transform="translate(676.37 1609.11) rotate(-4.7) scale(1.02 1.07)"><text x="0" y="10.74" font-size="30" text-anchor="middle" fill="#161616" stroke="#161616" stroke-width="0.45">&#216;34</text></g>
<line x1="440.94" y1="1780.97" x2="486.7" y2="1780.97" stroke="#3a3938" stroke-width="1"/>
<path d="M486.7 1780.97 L463.7 1776.77 L463.7 1785.17 Z" fill="#111"/>
<line x1="533.56" y1="1780.97" x2="666.42" y2="1780.97" stroke="#3a3938" stroke-width="1"/>
<path d="M533.56 1780.97 L556.56 1785.17 L556.56 1776.77 Z" fill="#111"/>
<g transform="translate(622.01 1773.43) scale(1.02 1.07)"><text x="0" y="0" font-size="30" text-anchor="middle" fill="#161616" stroke="#161616" stroke-width="0.45" >G1/2</text></g>
<line x1="886.11" y1="1469.07" x2="1000.51" y2="1469.07" stroke="#3a3938" stroke-width="1"/>
<path d="M886.11 1469.07 L901.11 1472.07 L901.11 1466.07 Z" fill="#111"/>
<path d="M1000.51 1469.07 L985.51 1466.07 L985.51 1472.07 Z" fill="#111"/>
<g transform="translate(943.48 1467.08) scale(1.02 1.07)"><text x="0" y="0" font-size="30" text-anchor="middle" fill="#161616" stroke="#161616" stroke-width="0.45" >50</text></g>
<line x1="886.11" y1="1469.07" x2="886.11" y2="1591.03" stroke="#3a3938" stroke-width="1"/>
<line x1="1000.51" y1="1469.07" x2="1000.51" y2="1640.31" stroke="#666" stroke-width="1"/>
<line x1="867.28" y1="1530.67" x2="886.11" y2="1530.67" stroke="#3a3938" stroke-width="1"/>
<path d="M886.11 1530.67 L872.11 1527.87 L872.11 1533.47 Z" fill="#111"/>
<line x1="897.2" y1="1530.67" x2="925.36" y2="1530.67" stroke="#3a3938" stroke-width="1"/>
<path d="M897.2 1530.67 L911.2 1533.47 L911.2 1527.87 Z" fill="#111"/>
<line x1="897.2" y1="1530.67" x2="897.2" y2="1591.91" stroke="#666" stroke-width="1"/>
<g transform="translate(917.44 1527.8) scale(1.02 1.07)"><text x="0" y="0" font-size="30" text-anchor="middle" fill="#161616" stroke="#161616" stroke-width="0.45" >5</text></g>
<rect x="886.11" y="1595.79" width="11.62" height="163.32" rx="1" stroke="#1d1c1b" stroke-width="1.8" fill="none"/>
<path d="M897.73 1639.08 L942.96 1639.08 C952.64 1643.83 961.44 1654.39 973.76 1653.51 C984.32 1652.63 991.36 1644.36 995.76 1644.36 L1000.15 1644.36 L1000.15 1710.71 L992.24 1710.71 C986.08 1708.07 980.8 1702.79 971.12 1703.67 C959.68 1704.55 954.4 1709.83 948.24 1715.99 L897.73 1715.99" stroke="#1d1c1b" stroke-width="1.8" fill="none" />
<path d="M905.12 1715.99 Q911.28 1711.59 917.44 1715.99" stroke="#1d1c1b" stroke-width="2" fill="none" />
<circle cx="1200.5" cy="1677.4" r="81.7" stroke="#1d1c1b" stroke-width="1.5" fill="none" />
<circle cx="1200.5" cy="1677.4" r="38.7" stroke="#1d1c1b" stroke-width="2" fill="none" />
<line x1="1181.81" y1="1646.09" x2="1181.81" y2="1709.49" stroke="#1d1c1b" stroke-width="1.5"/>
<line x1="1220.22" y1="1646.09" x2="1220.22" y2="1709.49" stroke="#1d1c1b" stroke-width="1.5"/>
<path d="M1181.81 1646.09 Q1200.5 1634.31 1220.22 1646.09" stroke="#1d1c1b" stroke-width="1.2" fill="none" />
<path d="M1181.81 1704.96 Q1200.5 1716.74 1220.22 1704.96" stroke="#1d1c1b" stroke-width="1.2" fill="none" />
<line x1="1181.81" y1="1709.49" x2="1220.22" y2="1709.49" stroke="#1d1c1b" stroke-width="1"/>
<line x1="1191.23" y1="1709.49" x2="1191.23" y2="1714.93" stroke="#1d1c1b" stroke-width="1"/>
<line x1="1210.8" y1="1709.49" x2="1210.8" y2="1714.93" stroke="#1d1c1b" stroke-width="1"/>
<line x1="1123.3" y1="1648.44" x2="1047.21" y2="1620.36" stroke="#3a3938" stroke-width="1"/>
<path d="M1123.3 1648.44 L1112.14 1641.13 L1110.06 1646.76 Z" fill="#111"/>
<g transform="translate(1075.29 1615.29) rotate(20.2) scale(1.02 1.07)"><text x="0" y="10.74" font-size="30" text-anchor="middle" fill="#161616" stroke="#161616" stroke-width="0.45">&#216;72</text></g>
<line x1="1238.88" y1="1668.73" x2="1361.52" y2="1639.38" stroke="#3a3938" stroke-width="1"/>
<path d="M1238.88 1668.73 L1252.22 1668.62 L1250.82 1662.79 Z" fill="#111"/>
<g transform="translate(1334.35 1630.69) rotate(-13.4) scale(1.02 1.07)"><text x="0" y="10.74" font-size="30" text-anchor="middle" fill="#161616" stroke="#161616" stroke-width="0.45">&#216;34</text></g>
<g transform="translate(1501.71 1446.4) scale(1.02 1.07)"><text x="0" y="0" font-size="30" text-anchor="middle" fill="#161616" stroke="#161616" stroke-width="0.45" >G1/2</text></g>
<line x1="1483.78" y1="1459.37" x2="1524.3" y2="1459.37" stroke="#3a3938" stroke-width="1"/>
<path d="M1483.78 1459.37 L1493.78 1461.97 L1493.78 1456.77 Z" fill="#111"/>
<path d="M1524.3 1459.37 L1514.3 1456.77 L1514.3 1461.97 Z" fill="#111"/>
<line x1="1483.78" y1="1456.11" x2="1483.78" y2="1477.54" stroke="#3a3938" stroke-width="1"/>
<line x1="1524.3" y1="1456.11" x2="1524.3" y2="1477.54" stroke="#3a3938" stroke-width="1"/>
<path d="M1483.78 1479.4 L1524.3 1479.4 L1521.51 1543.21 L1487.28 1543.21Z" stroke="#1d1c1b" stroke-width="1.6" fill="none" stroke-linejoin="round"/>
<path d="M1487.28 1718.57 L1521.51 1718.57 L1524.3 1781.45 L1483.78 1781.45Z" stroke="#1d1c1b" stroke-width="1.6" fill="none" stroke-linejoin="round"/>
<path d="M1490.07 1543.21 L1490.07 1612.14 Q1495.89 1610.75 1502.41 1611.44 T1509.86 1609.81 T1518.48 1613.07 L1518.48 1543.21" stroke="#1d1c1b" stroke-width="1.6" fill="none" />
<path d="M1490.07 1718.57 L1490.07 1617.96 Q1495.89 1616.57 1502.41 1617.27 T1509.86 1615.64 T1518.48 1618.9 L1518.48 1718.57" stroke="#1d1c1b" stroke-width="1.6" fill="none" />
<line x1="1504.04" y1="1471.02" x2="1504.04" y2="1787.27" stroke="#555" stroke-width="1" stroke-dasharray="14 4 2 4"/>
<line x1="1541.77" y1="1479.86" x2="1541.77" y2="1781.45" stroke="#3a3938" stroke-width="1"/>
<path d="M1541.77 1479.86 L1539.17 1491.86 L1544.37 1491.86 Z" fill="#111"/>
<path d="M1541.77 1781.45 L1544.37 1769.45 L1539.17 1769.45 Z" fill="#111"/>
<line x1="1526.63" y1="1479.4" x2="1544.8" y2="1479.4" stroke="#3a3938" stroke-width="1"/>
<line x1="1526.63" y1="1781.45" x2="1544.8" y2="1781.45" stroke="#3a3938" stroke-width="1"/>
<g transform="translate(1566.92 1617.27) rotate(-90) scale(1.02 1.07)"><text x="0" y="10.74" font-size="30" text-anchor="middle" fill="#161616" stroke="#161616" stroke-width="0.45">1500</text></g>
<line x1="1483.78" y1="1800.08" x2="1524.3" y2="1800.08" stroke="#3a3938" stroke-width="1"/>
<path d="M1483.78 1800.08 L1493.78 1802.68 L1493.78 1797.48 Z" fill="#111"/>
<path d="M1524.3 1800.08 L1514.3 1797.48 L1514.3 1802.68 Z" fill="#111"/>
<line x1="1483.78" y1="1783.78" x2="1483.78" y2="1803.57" stroke="#3a3938" stroke-width="1"/>
<line x1="1524.3" y1="1783.78" x2="1524.3" y2="1803.57" stroke="#3a3938" stroke-width="1"/>
<g transform="translate(1504.04 1833.68) scale(1.02 1.07)"><text x="0" y="0" font-size="30" text-anchor="middle" fill="#161616" stroke="#161616" stroke-width="0.45" >G1/2</text></g>
<g transform="translate(1833.64 1396.67) scale(1.02 1.07)"><text x="0" y="0" font-size="30" text-anchor="middle" fill="#161616" stroke="#161616" stroke-width="0.45" >&#216;26</text></g>
<line x1="1811.69" y1="1407.19" x2="1856.95" y2="1407.19" stroke="#3a3938" stroke-width="1"/>
<path d="M1811.69 1407.19 L1821.69 1409.59 L1821.69 1404.79 Z" fill="#111"/>
<path d="M1856.95 1407.19 L1846.95 1404.79 L1846.95 1409.59 Z" fill="#111"/>
<line x1="1811.69" y1="1404.44" x2="1811.69" y2="1428.59" stroke="#3a3938" stroke-width="1"/>
<line x1="1856.95" y1="1404.44" x2="1856.95" y2="1428.59" stroke="#3a3938" stroke-width="1"/>
<rect x="1811.69" y="1429.96" width="46.09" height="381.34" rx="0" stroke="#1d1c1b" stroke-width="1.6" fill="none"/>
<line x1="1811.69" y1="1433.53" x2="1857.78" y2="1433.53" stroke="#1d1c1b" stroke-width="1.2"/>
<circle cx="1819.92" cy="1449.71" r="2.4" stroke="#111" stroke-width="1.3" fill="#555" />
<circle cx="1829.6" cy="1449.71" r="2.4" stroke="#111" stroke-width="1.3" fill="#555" />
<circle cx="1839.29" cy="1449.71" r="2.4" stroke="#111" stroke-width="1.3" fill="#555" />
<circle cx="1848.97" cy="1449.71" r="2.4" stroke="#111" stroke-width="1.3" fill="#555" />
<circle cx="1819.92" cy="1459.37" r="2.4" stroke="#111" stroke-width="1.3" fill="#555" />
<circle cx="1829.6" cy="1459.37" r="2.4" stroke="#111" stroke-width="1.3" fill="#555" />
<circle cx="1839.29" cy="1459.37" r="2.4" stroke="#111" stroke-width="1.3" fill="#555" />
<circle cx="1848.97" cy="1459.37" r="2.4" stroke="#111" stroke-width="1.3" fill="#555" />
<circle cx="1819.92" cy="1469.03" r="2.4" stroke="#111" stroke-width="1.3" fill="#555" />
<circle cx="1829.6" cy="1469.03" r="2.4" stroke="#111" stroke-width="1.3" fill="#555" />
<circle cx="1839.29" cy="1469.03" r="2.4" stroke="#111" stroke-width="1.3" fill="#555" />
<circle cx="1848.97" cy="1469.03" r="2.4" stroke="#111" stroke-width="1.3" fill="#555" />
<circle cx="1819.92" cy="1478.68" r="2.4" stroke="#111" stroke-width="1.3" fill="#555" />
<circle cx="1829.6" cy="1478.68" r="2.4" stroke="#111" stroke-width="1.3" fill="#555" />
<circle cx="1839.29" cy="1478.68" r="2.4" stroke="#111" stroke-width="1.3" fill="#555" />
<circle cx="1848.97" cy="1478.68" r="2.4" stroke="#111" stroke-width="1.3" fill="#555" />
<circle cx="1819.92" cy="1488.34" r="2.4" stroke="#111" stroke-width="1.3" fill="#555" />
<circle cx="1829.6" cy="1488.34" r="2.4" stroke="#111" stroke-width="1.3" fill="#555" />
<circle cx="1839.29" cy="1488.34" r="2.4" stroke="#111" stroke-width="1.3" fill="#555" />
<circle cx="1848.97" cy="1488.34" r="2.4" stroke="#111" stroke-width="1.3" fill="#555" />
<circle cx="1819.92" cy="1498" r="2.4" stroke="#111" stroke-width="1.3" fill="#555" />
<circle cx="1829.6" cy="1498" r="2.4" stroke="#111" stroke-width="1.3" fill="#555" />
<circle cx="1839.29" cy="1498" r="2.4" stroke="#111" stroke-width="1.3" fill="#555" />
<circle cx="1848.97" cy="1498" r="2.4" stroke="#111" stroke-width="1.3" fill="#555" />
<circle cx="1819.92" cy="1507.65" r="2.4" stroke="#111" stroke-width="1.3" fill="#555" />
<circle cx="1829.6" cy="1507.65" r="2.4" stroke="#111" stroke-width="1.3" fill="#555" />
<circle cx="1839.29" cy="1507.65" r="2.4" stroke="#111" stroke-width="1.3" fill="#555" />
<circle cx="1848.97" cy="1507.65" r="2.4" stroke="#111" stroke-width="1.3" fill="#555" />
<circle cx="1819.92" cy="1517.31" r="2.4" stroke="#111" stroke-width="1.3" fill="#555" />
<circle cx="1829.6" cy="1517.31" r="2.4" stroke="#111" stroke-width="1.3" fill="#555" />
<circle cx="1839.29" cy="1517.31" r="2.4" stroke="#111" stroke-width="1.3" fill="#555" />
<circle cx="1848.97" cy="1517.31" r="2.4" stroke="#111" stroke-width="1.3" fill="#555" />
<circle cx="1819.92" cy="1526.97" r="2.4" stroke="#111" stroke-width="1.3" fill="#555" />
<circle cx="1829.6" cy="1526.97" r="2.4" stroke="#111" stroke-width="1.3" fill="#555" />
<circle cx="1839.29" cy="1526.97" r="2.4" stroke="#111" stroke-width="1.3" fill="#555" />
<circle cx="1848.97" cy="1526.97" r="2.4" stroke="#111" stroke-width="1.3" fill="#555" />
<circle cx="1819.92" cy="1536.63" r="2.4" stroke="#111" stroke-width="1.3" fill="#555" />
<circle cx="1829.6" cy="1536.63" r="2.4" stroke="#111" stroke-width="1.3" fill="#555" />
<circle cx="1839.29" cy="1536.63" r="2.4" stroke="#111" stroke-width="1.3" fill="#555" />
<circle cx="1848.97" cy="1536.63" r="2.4" stroke="#111" stroke-width="1.3" fill="#555" />
<circle cx="1819.92" cy="1546.28" r="2.4" stroke="#111" stroke-width="1.3" fill="#555" />
<circle cx="1829.6" cy="1546.28" r="2.4" stroke="#111" stroke-width="1.3" fill="#555" />
<circle cx="1839.29" cy="1546.28" r="2.4" stroke="#111" stroke-width="1.3" fill="#555" />
<circle cx="1848.97" cy="1546.28" r="2.4" stroke="#111" stroke-width="1.3" fill="#555" />
<circle cx="1819.92" cy="1555.94" r="2.4" stroke="#111" stroke-width="1.3" fill="#555" />
<circle cx="1829.6" cy="1555.94" r="2.4" stroke="#111" stroke-width="1.3" fill="#555" />
<circle cx="1839.29" cy="1555.94" r="2.4" stroke="#111" stroke-width="1.3" fill="#555" />
<circle cx="1848.97" cy="1555.94" r="2.4" stroke="#111" stroke-width="1.3" fill="#555" />
<rect x="1818.55" y="1811.3" width="32.92" height="3.57" rx="0" stroke="#1d1c1b" stroke-width="1" fill="none"/>
<rect x="1815.8" y="1814.87" width="38.41" height="14.81" rx="0" stroke="#1d1c1b" stroke-width="1.2" fill="none"/>
<line x1="1815.8" y1="1816.87" x2="1854.21" y2="1817.87" stroke="#222" stroke-width="1.4"/>
<line x1="1815.8" y1="1819.23" x2="1854.21" y2="1820.23" stroke="#222" stroke-width="1.4"/>
<line x1="1815.8" y1="1821.6" x2="1854.21" y2="1822.6" stroke="#222" stroke-width="1.4"/>
<line x1="1815.8" y1="1823.96" x2="1854.21" y2="1824.96" stroke="#222" stroke-width="1.4"/>
<line x1="1815.8" y1="1826.32" x2="1854.21" y2="1827.32" stroke="#222" stroke-width="1.4"/>
<line x1="1815.8" y1="1828.68" x2="1854.21" y2="1829.68" stroke="#222" stroke-width="1.4"/>
<line x1="1779.31" y1="1429.96" x2="1779.31" y2="1829.14" stroke="#3a3938" stroke-width="1"/>
<path d="M1779.31 1429.96 L1776.71 1441.96 L1781.91 1441.96 Z" fill="#111"/>
<path d="M1779.31 1829.14 L1781.91 1817.14 L1776.71 1817.14 Z" fill="#111"/>
<line x1="1778.22" y1="1428.59" x2="1811.69" y2="1428.59" stroke="#3a3938" stroke-width="1"/>
<line x1="1778.22" y1="1829.14" x2="1815.8" y2="1829.14" stroke="#3a3938" stroke-width="1"/>
<g transform="translate(1760.93 1611.85) rotate(-90) scale(1.02 1.07)"><text x="0" y="10.74" font-size="30" text-anchor="middle" fill="#161616" stroke="#161616" stroke-width="0.45">225</text></g>
<line x1="1815.8" y1="1850.53" x2="1853.39" y2="1850.53" stroke="#3a3938" stroke-width="1"/>
<path d="M1815.8 1850.53 L1825.8 1852.93 L1825.8 1848.13 Z" fill="#111"/>
<path d="M1853.39 1850.53 L1843.39 1848.13 L1843.39 1852.93 Z" fill="#111"/>
<line x1="1815.8" y1="1830.51" x2="1815.8" y2="1852.46" stroke="#3a3938" stroke-width="1"/>
<line x1="1853.39" y1="1830.51" x2="1853.39" y2="1852.46" stroke="#3a3938" stroke-width="1"/>
<g transform="translate(1832.26 1888) scale(1.02 1.07)"><text x="0" y="0" font-size="30" text-anchor="middle" fill="#161616" stroke="#161616" stroke-width="0.45" >G1/2</text></g>
</g>
</svg>
</body></html>
